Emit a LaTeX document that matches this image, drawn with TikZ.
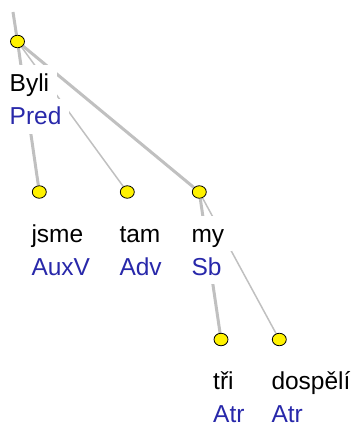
\documentclass[tikz,border=0pt]{standalone}
\usepackage{fontspec}
\setmainfont{Liberation Sans}
\usetikzlibrary{shapes.geometric,backgrounds}
\definecolor{kante}{RGB}{192,192,192}
\definecolor{funktor}{RGB}{40,40,170}
\tikzset{
	knot/.style={ellipse, draw=black, line width=0.8pt, fill=yellow,
		minimum width=14pt, minimum height=12.5pt, inner sep=0pt},
	wort/.style={anchor=base west, fill=white, inner xsep=8pt, inner ysep=0pt,
		text height=26pt, text depth=9pt, font=\fontsize{24.5}{28}\selectfont,
		text=black},
	funk/.style={wort, text=funktor},
	oben/.style={},
	unten/.style={text depth=0.5pt},
	dick/.style={draw=kante, line width=3pt},
	duenn/.style={draw=kante, line width=1.5pt}
}
\begin{document}
\begin{tikzpicture}[x=1pt, y=-1pt]
	\useasboundingbox (0, 0) rectangle (358, 428);
	% Knoten mit Wortform und Funktor
	\foreach \n/\x/\y/\w/\f/\o in {byli/17.5/41.5/Byli/Pred/oben,
		jsme/39.3/192/jsme/AuxV/oben, tam/127.3/192/tam/Adv/oben,
		my/199.3/192/my/Sb/oben, tri/221/339.5/tři/Atr/unten,
		dospeli/279.3/339.5/dospělí/Atr/unten}
	{
		\node[knot] (\n) at (\x, \y) {};
		\node[wort] (\n-w) at (\x - 16, \y + 50) {\w};
		\node[funk, \o] (\n-f) at (\x - 16, \y + 83) {\f};
	}
	\coordinate (top) at (13, 12);
	% Kanten
	\begin{scope}[on background layer]
		\draw[dick] (top) -- (byli);
		\draw[dick] (byli) -- (jsme);
		\draw[duenn] (byli) -- (tam);
		\draw[dick] (byli) -- (my);
		\draw[dick] (my) -- (tri);
		\draw[duenn] (my) -- (dospeli);
	\end{scope}
\end{tikzpicture}
\end{document}
